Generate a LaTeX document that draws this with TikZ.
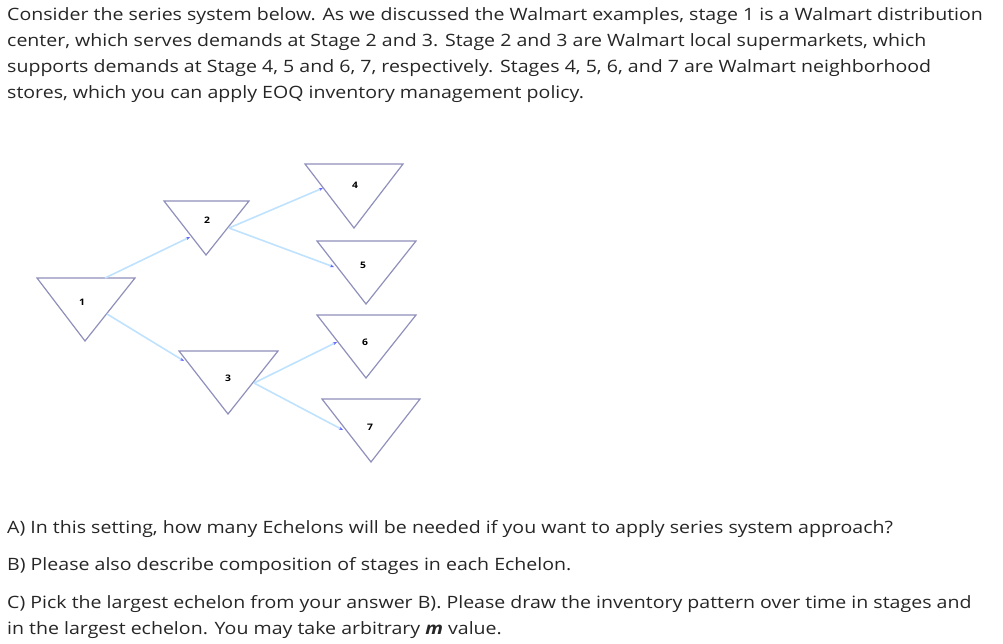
\documentclass[tikz,border=0pt]{standalone}
\usepackage{fontspec}
\setmainfont[FakeStretch=1.15]{Open Sans}
\usetikzlibrary{arrows.meta}
\begin{document}
\begin{tikzpicture}[x=1pt,y=-1pt,
  txt/.style={anchor=base west,inner sep=0pt,font=\fontsize{17}{21}\selectfont,text=black!85},
  tri/.style={draw=blue!25!gray!70,line width=1.2pt,line join=miter},
  lab/.style={font=\bfseries\fontsize{9}{10}\selectfont,inner sep=0pt},
  edge/.style={draw=blue!45!cyan!25!white,line width=1.6pt,-{Stealth[length=4pt,width=3pt,color=blue!60]}}]
\useasboundingbox (0,0) rectangle (1003,643);
\node[txt] (t1) at (7,20) {Consider the series system below. As we discussed the Walmart examples, stage 1 is a Walmart distribution};
\node[txt] (t2) at (7,46) {center, which serves demands at Stage 2 and 3. Stage 2 and 3 are Walmart local supermarkets, which};
\node[txt] (t3) at (7,72) {supports demands at Stage 4, 5 and 6, 7, respectively. Stages 4, 5, 6, and 7 are Walmart neighborhood};
\node[txt] (t4) at (7,98) {stores, which you can apply EOQ inventory management policy.};
\node[txt] (qa) at (7,533) {A) In this setting, how many Echelons will be needed if you want to apply series system approach?};
\node[txt] (qb) at (7,570) {B) Please also describe composition of stages in each Echelon.};
\node[txt] (qc1) at (7,608) {C) Pick the largest echelon from your answer B). Please draw the inventory pattern over time in stages and};
\node[txt] (qc2) at (7,634) {in the largest echelon. You may take arbitrary \textit{\textbf{m}} value.};
% triangles
\draw[tri] (37,278) -- (135,278) -- (85,341) -- cycle;
\draw[tri] (164,201) -- (249,201) -- (206,255) -- cycle;
\draw[tri] (179,351) -- (278,351) -- (228,414) -- cycle;
\draw[tri] (305,164) -- (403,164) -- (354,228) -- cycle;
\draw[tri] (317,241) -- (416,241) -- (366,304) -- cycle;
\draw[tri] (317,315) -- (416,315) -- (366,378) -- cycle;
\draw[tri] (322,399) -- (420,399) -- (371,462) -- cycle;
\node[lab] (n1) at (82,302) {1};
\node[lab] (n2) at (207,220) {2};
\node[lab] (n3) at (228,378) {3};
\node[lab] (n4) at (355,185) {4};
\node[lab] (n5) at (363,265) {5};
\node[lab] (n6) at (365,342) {6};
\node[lab] (n7) at (370,427) {7};
\coordinate (o1a) at (105,278);
\coordinate (o1b) at (107,314);
\coordinate (i2) at (190,237);
\coordinate (i3) at (184,361);
\coordinate (o2) at (229,228);
\coordinate (o3) at (254,383);
\coordinate (i4) at (323,188);
\coordinate (i5) at (334,267);
\coordinate (i6) at (337,342);
\coordinate (i7) at (343,430);
\draw[edge] (o1a) -- (i2);
\draw[edge] (o1b) -- (i3);
\draw[edge] (o2) -- (i4);
\draw[edge] (o2) -- (i5);
\draw[edge] (o3) -- (i6);
\draw[edge] (o3) -- (i7);
\end{tikzpicture}
\end{document}
